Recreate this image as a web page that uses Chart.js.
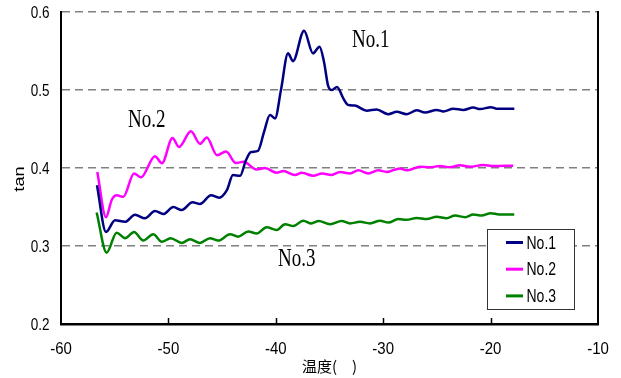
<!DOCTYPE html>
<html><head><meta charset="utf-8">
<script src="https://cdn.jsdelivr.net/npm/chart.js@4"></script>
<style>html,body{margin:0;padding:0;background:#fff;}canvas{display:block}</style>
</head><body>
<canvas id="c" width="621" height="378"></canvas>
<script>
const seriesNames = ['No.1', 'No.2', 'No.3'];
const seriesColors = ['#000080', '#FF00FF', '#008000'];

const no1Temp = [-56.65,-55.81,-54.97,-54.04,-53.11,-52.18,-51.25,-50.48,-49.54,-48.76,-47.76,-47.06,-46.03,-45.29,-44.54,-43.99,-43.33,-42.78,-42.31,-41.66,-41.10,-40.54,-40.07,-39.52,-38.86,-38.40,-37.37,-36.54,-35.93,-35.51,-35.14,-34.77,-34.30,-33.74,-33.28,-32.63,-31.54,-30.61,-29.53,-28.74,-27.81,-26.88,-26.11,-25.02,-24.40,-23.47,-22.54,-21.61,-20.99,-19.96,-19.43,-17.79];
const no1Tan  = [0.378,0.318,0.333,0.331,0.340,0.3355,0.345,0.341,0.350,0.346,0.356,0.354,0.365,0.362,0.372,0.391,0.390,0.410,0.4205,0.422,0.446,0.468,0.4635,0.500,0.547,0.537,0.576,0.547,0.5555,0.536,0.506,0.500,0.504,0.490,0.481,0.480,0.4735,0.475,0.469,0.472,0.469,0.474,0.471,0.4745,0.4725,0.476,0.4745,0.4775,0.4755,0.478,0.476,0.476];

const no2Temp = [-56.62,-55.81,-55.28,-54.81,-54.20,-53.20,-52.55,-51.25,-50.60,-49.62,-49.01,-47.90,-47.06,-46.43,-45.47,-44.64,-43.71,-43.01,-41.78,-41.01,-39.92,-39.30,-38.21,-37.59,-36.51,-35.70,-34.80,-34.02,-33.09,-32.32,-31.39,-30.46,-29.67,-28.44,-27.81,-26.57,-25.64,-24.71,-23.78,-22.85,-21.92,-20.68,-19.75,-17.89];
const no2Tan  = [0.395,0.337,0.359,0.365,0.363,0.393,0.388,0.415,0.406,0.4385,0.427,0.447,0.431,0.439,0.4165,0.421,0.4065,0.408,0.398,0.400,0.394,0.396,0.391,0.394,0.390,0.393,0.391,0.395,0.393,0.397,0.393,0.397,0.395,0.3995,0.397,0.4015,0.401,0.4025,0.401,0.4035,0.4015,0.404,0.4025,0.403];

const no3Temp = [-56.68,-55.75,-54.82,-54.04,-53.20,-52.34,-51.41,-50.62,-49.79,-48.76,-47.99,-47.06,-46.13,-45.35,-44.26,-43.50,-42.56,-41.78,-40.85,-39.92,-39.14,-38.37,-37.44,-36.70,-36.00,-34.95,-33.87,-33.09,-32.16,-31.23,-30.30,-29.52,-28.60,-27.81,-26.88,-25.95,-25.02,-24.10,-23.31,-22.38,-21.61,-20.83,-20.00,-19.20,-17.80];
const no3Tan  = [0.343,0.2915,0.317,0.310,0.318,0.307,0.315,0.3055,0.310,0.304,0.3085,0.304,0.310,0.307,0.315,0.312,0.3185,0.316,0.324,0.3205,0.328,0.3255,0.3325,0.329,0.332,0.328,0.332,0.329,0.331,0.329,0.3325,0.330,0.3345,0.3335,0.336,0.3345,0.3375,0.3355,0.339,0.337,0.3405,0.339,0.342,0.3405,0.3405];

const xTickValues = [-60, -50, -40, -30, -20, -10];
const yTickValues = [0.2, 0.3, 0.4, 0.5, 0.6];
const xTickLabels = ['-60', '-50', '-40', '-30', '-20', '-10'];
const yTickLabels = ['0.2', '0.3', '0.4', '0.5', '0.6'];
const xTitle = '温度(\u3000)';
const yTitle = 'tan';

const temps = [no1Temp, no2Temp, no3Temp];
const tans = [no1Tan, no2Tan, no3Tan];

const SANS = "'Liberation Sans', Arial, sans-serif";

function stretchText(ctx, txt, px, py, sx, sy) {
  ctx.save();
  ctx.translate(px, py);
  ctx.scale(sx, sy);
  ctx.fillText(txt, 0, 0);
  ctx.restore();
}

const decor = {
  id: 'decor',
  afterDraw(chart) {
    const {ctx, chartArea: a, scales: {x, y}} = chart;
    ctx.save();
    ctx.strokeStyle = '#000';
    ctx.lineWidth = 2;
    ctx.beginPath(); ctx.moveTo(a.right, a.top - 1); ctx.lineTo(a.right, a.bottom + 1); ctx.stroke();
    ctx.lineWidth = 1.5;
    x.ticks.forEach(t => {
      if (t.value <= x.min || t.value >= x.max) return;
      const px = Math.round(x.getPixelForValue(t.value)) + 0.5;
      ctx.beginPath(); ctx.moveTo(px, a.bottom); ctx.lineTo(px, a.bottom - 6); ctx.stroke();
    });
    // tick labels
    ctx.fillStyle = '#000';
    ctx.textBaseline = 'middle';
    ctx.textAlign = 'right';
    ctx.font = '13.5px ' + SANS;
    yTickValues.forEach((v, i) => {
      stretchText(ctx, yTickLabels[i], a.left - 11.5, y.getPixelForValue(v) + 1.5, 1, 1.2);
    });
    ctx.textAlign = 'center';
    ctx.font = '15px ' + SANS;
    xTickValues.forEach((v, i) => {
      stretchText(ctx, xTickLabels[i], x.getPixelForValue(v), a.bottom + 25, 1, 1.1);
    });
    // annotations (serif labels inside plot)
    const notes = [['No.1', -32.9, 0.555], ['No.2', -53.76, 0.4526], ['No.3', -39.8, 0.2744]];
    ctx.font = "19px 'Liberation Serif', 'Times New Roman', serif";
    ctx.textBaseline = 'alphabetic';
    ctx.textAlign = 'left';
    notes.forEach(([t, vx, vy]) => {
      stretchText(ctx, t, x.getPixelForValue(vx), y.getPixelForValue(vy), 1, 1.3);
    });
    // legend
    const lx = 487, ly = 229, lw = 87, lh = 80;
    ctx.fillStyle = '#fff';
    ctx.fillRect(lx, ly, lw, lh);
    ctx.strokeStyle = '#333';
    ctx.lineWidth = 1;
    ctx.strokeRect(lx + 0.5, ly + 0.5, lw, lh);
    ctx.font = '14px ' + SANS;
    ctx.textBaseline = 'middle';
    seriesNames.forEach((n, i) => {
      const cy = 242.5 + i * 26.7;
      ctx.strokeStyle = seriesColors[i];
      ctx.lineWidth = 3;
      ctx.beginPath(); ctx.moveTo(506, cy); ctx.lineTo(523, cy); ctx.stroke();
      ctx.fillStyle = '#000';
      stretchText(ctx, n, 526.5, cy + 1, 1, 1.3);
    });
    // axis titles
    ctx.save();
    ctx.translate(20, 179);
    ctx.rotate(-Math.PI / 2);
    ctx.scale(1.3, 1);
    ctx.font = '14px ' + SANS;
    ctx.textAlign = 'center';
    ctx.textBaseline = 'middle';
    ctx.fillText(yTitle, 0, 0);
    ctx.restore();
    ctx.font = "15px 'Noto Sans CJK SC', sans-serif";
    ctx.textAlign = 'center';
    ctx.textBaseline = 'middle';
    ctx.fillText(xTitle, (a.left + a.right) / 2, 366);
    ctx.restore();
  }
};

new Chart(document.getElementById('c'), {
  type: 'line',
  data: {
    datasets: seriesNames.map((n, i) => ({
      label: n,
      data: temps[i].map((t, k) => ({x: t, y: tans[i][k]})),
      borderColor: seriesColors[i],
      backgroundColor: seriesColors[i],
      borderWidth: 2.5,
      pointRadius: 0,
      fill: false,
      cubicInterpolationMode: 'monotone'
    }))
  },
  options: {
    responsive: false,
    animation: false,
    devicePixelRatio: 1,
    layout: {padding: {top: 12, right: 23, left: 0, bottom: 0}},
    plugins: {legend: {display: false}, tooltip: {enabled: false}},
    scales: {
      x: {
        type: 'linear',
        min: -60, max: -10,
        afterBuildTicks: s => { s.ticks = xTickValues.map(v => ({value: v})); },
        afterFit: s => { s.height = 54; },
        grid: {display: false, drawTicks: false},
        border: {display: true, color: '#000', width: 2.5},
        ticks: {display: false}
      },
      y: {
        type: 'linear',
        min: 0.2, max: 0.6,
        afterBuildTicks: s => { s.ticks = yTickValues.map(v => ({value: v})); },
        afterFit: s => { s.width = 61; },
        grid: {color: '#808080', lineWidth: 1.5, drawTicks: false},
        border: {display: true, color: '#000', width: 2, dash: [8, 5]},
        ticks: {display: false}
      }
    }
  },
  plugins: [decor]
});
</script>
</body></html>
